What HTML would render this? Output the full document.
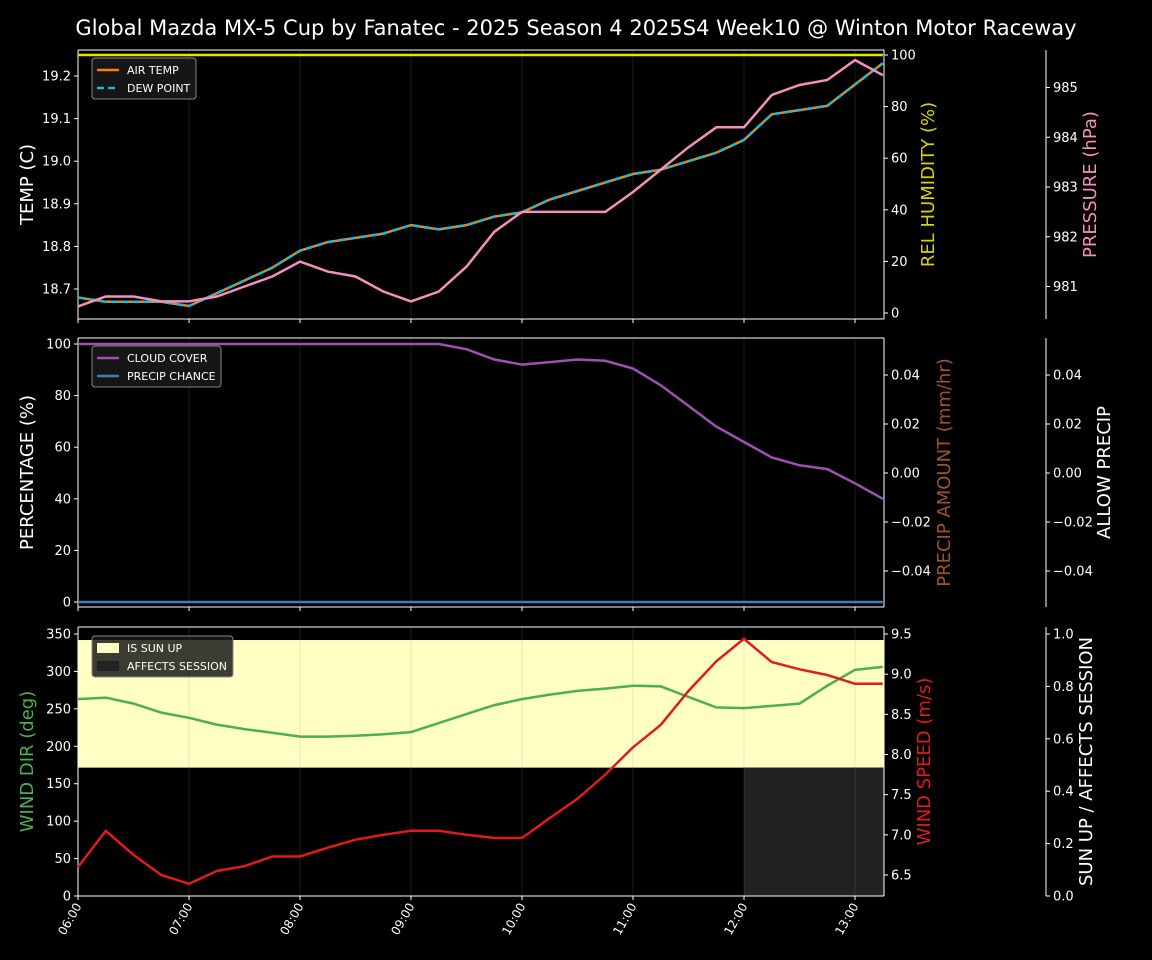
<!DOCTYPE html>
<html><head><meta charset="utf-8">
<style>
html,body{margin:0;padding:0;background:#000;}
svg{display:block;font-family:"DejaVu Sans","Liberation Sans",sans-serif;}
</style></head>
<body>
<svg id="chart" width="1152" height="960" viewBox="0 0 1152 960">
<rect x="0" y="0" width="1152" height="960" fill="#000"/>
<text x="576" y="35" fill="#fff" font-size="21" text-anchor="middle">Global Mazda MX-5 Cup by Fanatec - 2025 Season 4 2025S4 Week10 @ Winton Motor Raceway</text>
<g id="g"></g>
</svg>
<script>
const timeLabels=["06:00","07:00","08:00","09:00","10:00","11:00","12:00","13:00"];
const airTemp=[18.68,18.67,18.67,18.67,18.66,18.69,18.72,18.75,18.79,18.81,18.82,18.83,18.85,18.84,18.85,18.87,18.88,18.91,18.93,18.95,18.97,18.98,19.00,19.02,19.05,19.11,19.12,19.13,19.18,19.23];
const dewPoint=[18.68,18.67,18.67,18.67,18.66,18.69,18.72,18.75,18.79,18.81,18.82,18.83,18.85,18.84,18.85,18.87,18.88,18.91,18.93,18.95,18.97,18.98,19.00,19.02,19.05,19.11,19.12,19.13,19.18,19.23];
const humidity=[100,100,100,100,100,100,100,100,100,100,100,100,100,100,100,100,100,100,100,100,100,100,100,100,100,100,100,100,100,100];
const pressure=[980.6,980.8,980.8,980.7,980.7,980.8,981.0,981.2,981.5,981.3,981.2,980.9,980.7,980.9,981.4,982.1,982.5,982.5,982.5,982.5,982.9,983.35,983.8,984.2,984.2,984.85,985.05,985.15,985.55,985.25];
const cloudCover=[100,100,100,100,100,100,100,100,100,100,100,100,100,100,98,94,92,93,94,93.5,90.5,84,76,68,62,56,53,51.5,46,40];
const precipChance=[0,0,0,0,0,0,0,0,0,0,0,0,0,0,0,0,0,0,0,0,0,0,0,0,0,0,0,0,0,0];
const windDir=[263,265,257,245,238,229,223,218,213,213,214,216,219,231,243,255,263,269,274,277,281,280,266,252,251,254,257,281,302,306];
const windSpeed=[6.60,7.05,6.75,6.50,6.39,6.55,6.61,6.73,6.73,6.84,6.94,7.00,7.05,7.05,7.00,6.96,6.96,7.21,7.45,7.75,8.09,8.37,8.79,9.16,9.44,9.15,9.06,8.99,8.88,8.88];
const sunUp=[0.977,0.49];
const affectsStartHour=12;

const NS="http://www.w3.org/2000/svg";
const g=document.getElementById('g');
function el(tag,attrs,parent,text){const e=document.createElementNS(NS,tag);for(const k in attrs)e.setAttribute(k,attrs[k]);if(text!==undefined)e.textContent=text;(parent||g).appendChild(e);return e;}
const X0=78,X1=884,PXH=111;
const xh=h=>X0+h*PXH;
const xi=i=>xh(i*0.25);
function lin(v0,y0,v1,y1){return v=>y0+(v-v0)*(y1-y0)/(v1-v0);}
function path(arr,sc){return arr.map((v,i)=>(i?'L':'M')+xi(i).toFixed(1)+' '+sc(v).toFixed(1)).join(' ');}

const panels=[{t:50,b:319},{t:338,b:607},{t:627,b:896}];
const ySun=lin(0,896,1,634);
let sr=el('rect',{x:X0,y:ySun(sunUp[0]),width:X1-X0,height:ySun(sunUp[1])-ySun(sunUp[0]),fill:'#ffffc4'});


let ar=el('rect',{x:xh(affectsStartHour-6),y:ySun(sunUp[1]),width:X1-xh(affectsStartHour-6),height:896-ySun(sunUp[1]),fill:'#222'});


panels.forEach(p=>{
  timeLabels.forEach((t,i)=>{const x=xh(i);if(i>0)el('line',{x1:x,x2:x,y1:p.t,y2:p.b,stroke:'#888','stroke-opacity':0.2,'stroke-width':1});});
});

function leftAxis(p,ticks,sc,fmt,label,color,name){
  el('line',{x1:X0,x2:X0,y1:p.t,y2:p.b,stroke:'#fff'});
  ticks.forEach(v=>{const y=sc(v);el('line',{x1:X0-4,x2:X0,y1:y,y2:y,stroke:'#fff'});el('text',{x:X0-7,y:y+4.5,fill:'#fff','font-size':13,'text-anchor':'end'},g,fmt(v));});
  const ym=(p.t+p.b)/2;
  const t=el('text',{x:33,y:ym,fill:color,'font-size':18,'text-anchor':'middle',transform:`rotate(-90 33 ${ym})`},g,label);
  
  
}
function rightAxis(p,ax,ticks,sc,fmt,label,color,lx,name){
  el('line',{x1:ax,x2:ax,y1:p.t,y2:p.b,stroke:'#fff'});
  ticks.forEach(v=>{const y=sc(v);el('line',{x1:ax,x2:ax+4,y1:y,y2:y,stroke:'#fff'});el('text',{x:ax+7,y:y+4.5,fill:'#fff','font-size':13},g,fmt(v));});
  const ym=(p.t+p.b)/2;
  const t=el('text',{x:lx,y:ym,fill:color,'font-size':18,'text-anchor':'middle',transform:`rotate(-90 ${lx} ${ym})`},g,label);
  
  
}
panels.forEach(p=>{el('line',{x1:X0,x2:X1,y1:p.t,y2:p.t,stroke:'#fff'});el('line',{x1:X0,x2:X1,y1:p.b,y2:p.b,stroke:'#fff'});
  timeLabels.forEach((t,i)=>{const x=xh(i);el('line',{x1:x,x2:x,y1:p.b,y2:p.b+4,stroke:'#fff'});});});

// Panel 1
const yT=lin(18.7,289,19.2,76), yH=lin(0,313,100,55), yP=lin(981,286.5,985,87.5);
leftAxis(panels[0],[18.7,18.8,18.9,19.0,19.1,19.2],yT,v=>v.toFixed(1),'TEMP (C)','#fff','temp-axis-title');
rightAxis(panels[0],X1,[0,20,40,60,80,100],yH,v=>v,'REL HUMIDITY (%)','#d4d400',934,'humidity-axis-title');
rightAxis(panels[0],1046,[981,982,983,984,985],yP,v=>v,'PRESSURE (hPa)','#f48fc0',1096,'pressure-axis-title');
let l;
l=el('path',{d:path(humidity,yH),fill:'none',stroke:'#e6e600','stroke-width':2.5});


l=el('path',{d:path(airTemp,yT),fill:'none',stroke:'#ff7f0e','stroke-width':2.5});


l=el('path',{d:path(dewPoint,yT),fill:'none',stroke:'#17becf','stroke-width':2.5,'stroke-dasharray':'7 4'});


l=el('path',{d:path(pressure,yP),fill:'none',stroke:'#f48fc0','stroke-width':2.5});



// Panel 2
const yC=lin(0,602,100,344), yA=lin(0,473,0.02,424);
leftAxis(panels[1],[0,20,40,60,80,100],yC,v=>v,'PERCENTAGE (%)','#fff','percentage-axis-title');
const pfmt=v=>v<0?'\u2212'+Math.abs(v).toFixed(2):v.toFixed(2);
rightAxis(panels[1],X1,[-0.04,-0.02,0,0.02,0.04],yA,pfmt,'PRECIP AMOUNT (mm/hr)','#a0522d',950,'precip-amount-axis-title');
rightAxis(panels[1],1046,[-0.04,-0.02,0,0.02,0.04],yA,pfmt,'ALLOW PRECIP','#fff',1110,'allow-precip-axis-title');
l=el('path',{d:path(cloudCover,yC),fill:'none',stroke:'#a050b0','stroke-width':2.5});


l=el('path',{d:path(precipChance,yC),fill:'none',stroke:'#3a80c0','stroke-width':2.5});



// Panel 3
const yD=lin(0,896,350,634), yS=lin(6.5,875,9.5,634);
leftAxis(panels[2],[0,50,100,150,200,250,300,350],yD,v=>v,'WIND DIR (deg)','#4caf50','wind-dir-axis-title');
rightAxis(panels[2],X1,[6.5,7.0,7.5,8.0,8.5,9.0,9.5],yS,v=>v.toFixed(1),'WIND SPEED (m/s)','#e31a1c',930,'wind-speed-axis-title');
rightAxis(panels[2],1046,[0,0.2,0.4,0.6,0.8,1.0],ySun,v=>v.toFixed(1),'SUN UP / AFFECTS SESSION','#fff',1092,'sun-up-axis-title');
l=el('path',{d:path(windDir,yD),fill:'none',stroke:'#4caf50','stroke-width':2.5});


l=el('path',{d:path(windSpeed,yS),fill:'none',stroke:'#e31a1c','stroke-width':2.5});



timeLabels.forEach((t,i)=>{const x=xh(i);const tx=el('text',{x:x+4,y:906,fill:'#fff','font-size':12,'text-anchor':'end',transform:`rotate(-60 ${x+4} 906)`},g,t);
  
  });

function legend(x,y,w,items,name){
  const lg=el('g',{});
  
  
  el('rect',{x:x,y:y,width:w,height:items.length*18+5,rx:3,fill:'#1a1a1a','fill-opacity':0.85,stroke:'#888'},lg);
  items.forEach((it,i)=>{const yy=y+12+i*18;
    if(it.box) el('rect',{x:x+5,y:yy-5,width:22,height:10,fill:it.c},lg);
    else el('line',{x1:x+5,x2:x+27,y1:yy,y2:yy,stroke:it.c,'stroke-width':2.5,'stroke-dasharray':it.d||''},lg);
    el('text',{x:x+35,y:yy+4,fill:'#fff','font-size':11},lg,it.t);});
}
legend(92,58,104,[{c:'#ff7f0e',t:'AIR TEMP'},{c:'#17becf',t:'DEW POINT',d:'7 4'}],'temp-legend');
legend(92,346,129,[{c:'#a050b0',t:'CLOUD COVER'},{c:'#3a80c0',t:'PRECIP CHANCE'}],'cloud-legend');
legend(92,636,141,[{c:'#ffffc4',t:'IS SUN UP',box:1},{c:'#222',t:'AFFECTS SESSION',box:1}],'sun-legend');
</script>
</body></html>
